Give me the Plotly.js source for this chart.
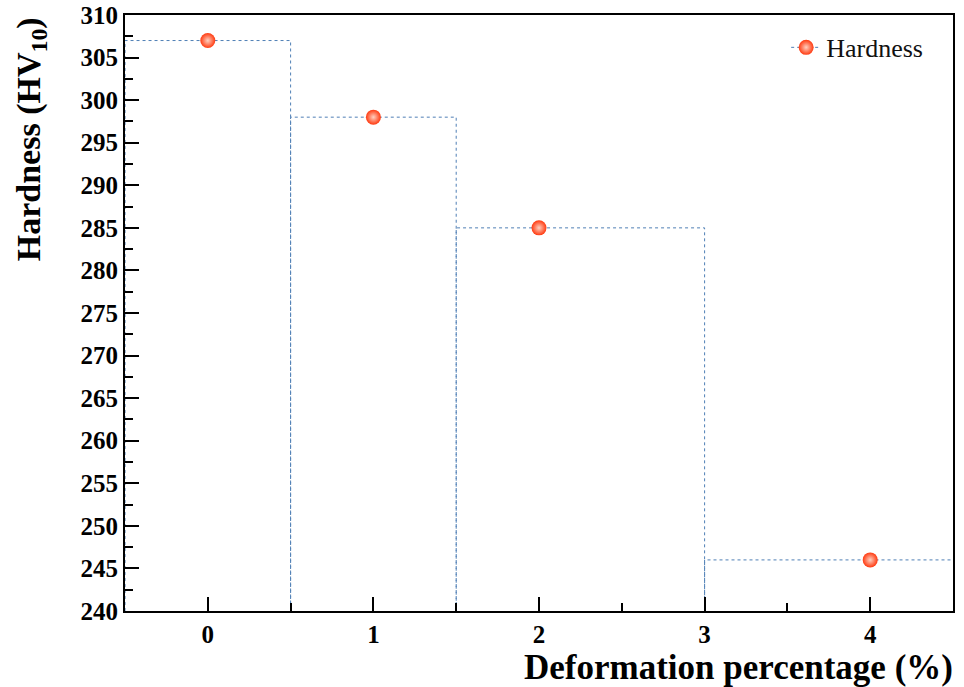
<!DOCTYPE html>
<html><head><meta charset="utf-8">
<script src="https://cdn.plot.ly/plotly-3.0.1.min.js"></script>
<style>html,body{margin:0;padding:0;background:#fff}#chart{width:964px;height:687px}</style>
</head><body><div id="chart"></div>
<script>
const deformation = [0, 1, 2, 4];
const hardness = [307, 298, 285, 246];
const xTicks = [0, 1, 2, 3, 4];
const yTicks = [240, 245, 250, 255, 260, 265, 270, 275, 280, 285, 290, 295, 300, 305, 310];

const xMin = -0.5, xMax = 4.5, yMin = 240, yMax = 310;
// build histogram-style outline (bin edges at midpoints between points)
const ox = [], oy = [];
for (let i = 0; i < deformation.length; i++) {
  const lo = i === 0 ? xMin : (deformation[i - 1] + deformation[i]) / 2;
  const hi = i === deformation.length - 1 ? xMax + 0.1 : (deformation[i] + deformation[i + 1]) / 2;
  ox.push(lo, lo, hi, hi, null);
  oy.push(yMin, hardness[i], hardness[i], yMin, null);
}
const lineColor = '#4f7fb5';
const markerStyle = {size: 15, color: '#ff3a10', line: {width: 0},
  gradient: {type: 'radial', color: '#ffd0c0'}};

const traces = [
  {x: ox, y: oy, mode: 'lines', line: {color: lineColor, width: 1, dash: 'dot'},
   showlegend: false, hoverinfo: 'skip'},
  {x: deformation, y: hardness, mode: 'markers', marker: markerStyle, showlegend: false},
  {x: [null], y: [null], mode: 'lines+markers', name: 'Hardness',
   line: {color: lineColor, width: 1, dash: 'dot'}, marker: markerStyle}
];

const fam = 'Liberation Serif, Times New Roman, serif';
const tickFont = {family: fam, size: 25, color: '#000', weight: 'bold'};
const layout = {
  width: 964, height: 687,
  margin: {l: 125, r: 11, t: 15, b: 76},
  paper_bgcolor: '#fff', plot_bgcolor: '#fff',
  showlegend: true,
  legend: {x: 0.97, y: 0.985, xanchor: 'right', yanchor: 'top', bgcolor: 'rgba(0,0,0,0)',
    font: {family: fam, size: 26, color: '#111'}},
  xaxis: {range: [xMin, xMax], tickvals: xTicks, ticktext: xTicks.map(String),
    ticks: 'inside', ticklen: 14, tickwidth: 2, tickcolor: '#000',
    minor: {dtick: 0.5, ticks: 'inside', ticklen: 8, tickwidth: 2, tickcolor: '#000'},
    showline: true, linewidth: 2, linecolor: '#000', mirror: true,
    showgrid: false, zeroline: false, tickfont: tickFont},
  yaxis: {range: [yMin, yMax], tickvals: yTicks, ticktext: yTicks.map(String),
    ticks: 'inside', ticklen: 14, tickwidth: 2, tickcolor: '#000',
    minor: {dtick: 2.5, ticks: 'inside', ticklen: 8, tickwidth: 2, tickcolor: '#000'},
    showline: true, linewidth: 2, linecolor: '#000', mirror: true,
    showgrid: false, zeroline: false, tickfont: tickFont},
  annotations: [
    {text: '<b>Deformation percentage (%)</b>', xref: 'paper', yref: 'paper', x: 1.003, y: -0.094,
     xanchor: 'right', yanchor: 'middle', showarrow: false,
     font: {family: fam, size: 35, color: '#000'}},
    {text: '<b>Hardness (HV<sub>10</sub>)</b>', xref: 'paper', yref: 'paper', x: -0.141, y: 1.0,
     xanchor: 'left', yanchor: 'top', showarrow: false, textangle: -90,
     font: {family: fam, size: 34, color: '#000'}}
  ]
};
Plotly.newPlot('chart', traces, layout, {displayModeBar: false});
</script></body></html>
